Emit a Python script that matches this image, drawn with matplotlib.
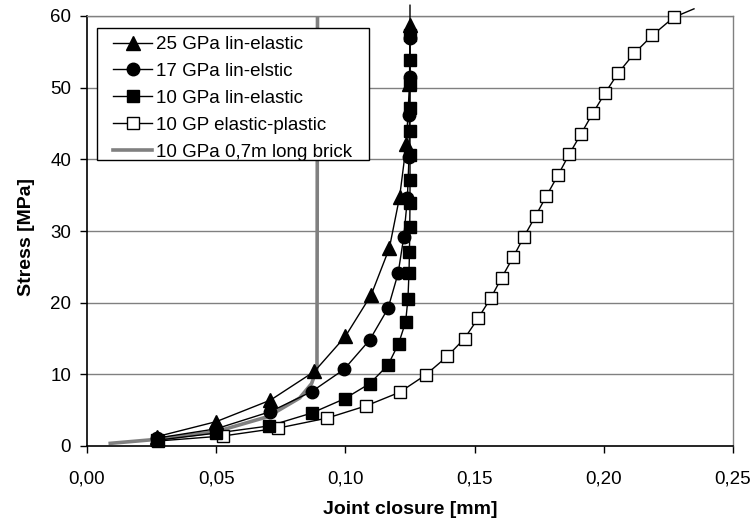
import matplotlib
matplotlib.use("Agg")
import matplotlib.pyplot as plt
from matplotlib.patches import Rectangle
import numpy as np

plt.rcParams['font.family'] = ['Liberation Sans', 'DejaVu Sans']

# ---- data ----
tri_x = [0.027, 0.050, 0.071, 0.088, 0.100, 0.110, 0.117, 0.121, 0.1236, 0.1248, 0.1250, 0.1250]
tri_y = [1.3, 3.4, 6.4, 10.4, 15.3, 21.1, 27.6, 34.8, 42.2, 50.5, 58.7, 61.5]

cir_x = [0.027, 0.050, 0.071, 0.087, 0.0995, 0.1094, 0.1165, 0.1204, 0.1226, 0.1240, 0.1246, 0.1248, 0.1250, 0.1250]
cir_y = [1.1, 2.4, 4.8, 7.6, 10.7, 14.8, 19.2, 24.1, 29.2, 34.6, 40.3, 46.2, 51.5, 57.0]

sq_x = [0.027, 0.050, 0.0705, 0.087, 0.0997, 0.1094, 0.1165, 0.1206, 0.1233, 0.1242, 0.1246,
        0.1248, 0.1249, 0.1250, 0.1250, 0.1250, 0.1250, 0.1250, 0.1250, 0.1250, 0.1250]
sq_y = [0.8, 1.8, 2.8, 4.6, 6.6, 8.7, 11.3, 14.3, 17.3, 20.5, 24.1,
        27.1, 30.6, 33.9, 37.1, 40.6, 43.9, 47.1, 50.5, 53.9, 57.3]

ep_x = [0.0275, 0.0527, 0.074, 0.093, 0.108, 0.121, 0.131, 0.1394, 0.1461, 0.1513, 0.1562,
        0.1605, 0.165, 0.1691, 0.1736, 0.1778, 0.1823, 0.1866, 0.1911, 0.1957, 0.2004,
        0.2055, 0.2118, 0.2188, 0.227, 0.2349]
ep_y = [0.7, 1.4, 2.5, 3.9, 5.6, 7.5, 9.9, 12.5, 15.0, 17.8, 20.6,
        23.5, 26.4, 29.2, 32.1, 34.9, 37.8, 40.7, 43.5, 46.4, 49.2,
        52.0, 54.8, 57.3, 59.8, 61.0]

brick_x = [0.009, 0.026, 0.050, 0.070, 0.0823, 0.0869, 0.0890, 0.0892]
brick_y = [0.37, 0.9, 2.0, 4.1, 6.7, 8.7, 10.8, 60.0]

labels = ["25 GPa lin-elastic", "17 GPa lin-elstic", "10 GPa lin-elastic",
          "10 GP elastic-plastic", "10 GPa 0,7m long brick"]

x_ticks = [0.00, 0.05, 0.10, 0.15, 0.20, 0.25]
y_ticks = [0, 10, 20, 30, 40, 50, 60]

W, H = 755, 526
FS = 13.5

# ---- figure ----
fig = plt.figure(figsize=(W/100, H/100), dpi=100)
ax = fig.add_axes([87/W, 1-446/H, 646/W, 430/H])

ax.set_xlim(0, 0.25)
ax.set_ylim(0, 60)

for yv in y_ticks[1:]:
    ax.axhline(yv, color='#808080', lw=1.0, zorder=0)

def series(xs, ys, marker, ms, mfc, label):
    xs = np.asarray(xs); ys = np.asarray(ys)
    ax.plot(xs, ys, color='black', lw=1.0, clip_on=False, zorder=3)
    m = ys <= 60.2
    ax.plot(xs[m], ys[m], linestyle='none', marker=marker, ms=ms, mfc=mfc,
            mec='black', mew=1.0, clip_on=False, zorder=4)
    return ax.plot([], [], color='black', lw=1.0, marker=marker, ms=ms, mfc=mfc,
                   mec='black', mew=1.0, label=label)[0]

h_ep = series(ep_x, ep_y, 's', 8.0, 'white', labels[3])
h_sq = series(sq_x, sq_y, 's', 8.5, 'black', labels[2])
h_ci = series(cir_x, cir_y, 'o', 9.0, 'black', labels[1])
h_tr = series(tri_x, tri_y, '^', 10.0, 'black', labels[0])
h_br, = ax.plot(brick_x, brick_y, color='#808080', lw=2.6, zorder=2, label=labels[4])

ax.set_xticks(x_ticks)
ax.set_xticklabels([f"{v:.2f}".replace('.', ',') for v in x_ticks])
ax.set_yticks(y_ticks)
ax.set_yticklabels([str(v) for v in y_ticks])
ax.tick_params(direction='out', length=5, width=1, labelsize=FS, colors='black')
ax.tick_params(axis='x', pad=13)
ax.tick_params(axis='y', pad=6.5)

for s in ['left', 'bottom']:
    ax.spines[s].set_color('black')
    ax.spines[s].set_linewidth(1.2)
for s in ['top', 'right']:
    ax.spines[s].set_color('#808080')
    ax.spines[s].set_linewidth(1.0)

ax.set_xlabel("Joint closure [mm]", fontsize=14, fontweight='bold', labelpad=9)
ax.set_ylabel("Stress [MPa]", fontsize=14, fontweight='bold', labelpad=11)
ax.yaxis.label.set_y(0.487)

# legend box (frame drawn separately for exact padding)
box = Rectangle((97/W, 1-160/H), (369-97)/W, (160-28)/H, transform=fig.transFigure,
                facecolor='white', edgecolor='black', lw=1.0, zorder=9)
fig.add_artist(box)
leg = fig.legend(handles=[h_tr, h_ci, h_sq, h_ep, h_br], loc='upper left',
                 bbox_to_anchor=(113/W, 1-36/H), borderaxespad=0, borderpad=0,
                 fontsize=FS, frameon=False, handlelength=2.1, handletextpad=0.2,
                 labelspacing=0.52)
leg.set_zorder(10)

fig.savefig("out.png", dpi=100)
